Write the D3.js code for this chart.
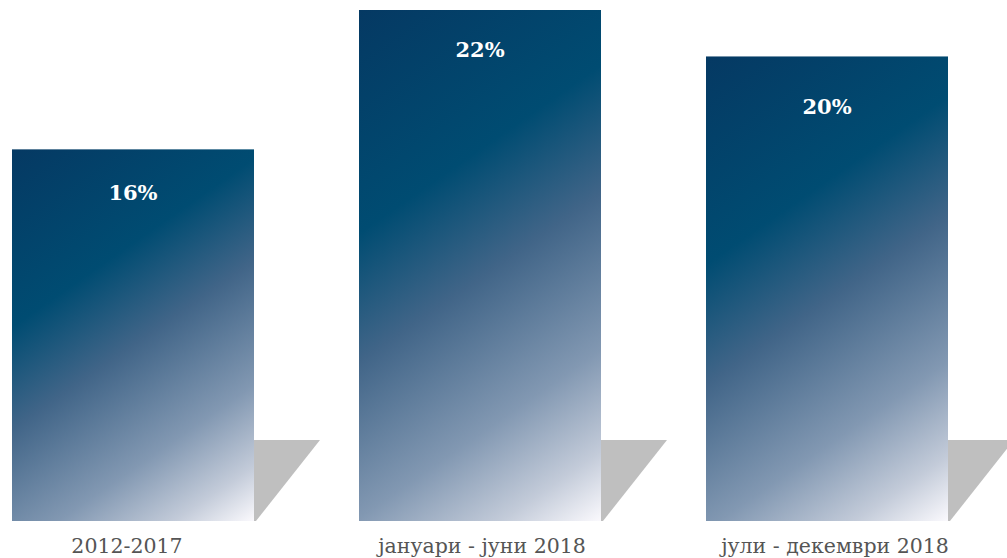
<!DOCTYPE html>
<html>
<head>
<meta charset="utf-8">
<script src="https://cdn.jsdelivr.net/npm/d3@7"></script>
<style>
  html, body { margin: 0; padding: 0; background: #fff; }
  svg { display: block; }
</style>
</head>
<body>
<svg></svg>
<script>
const SVG_WIDTH = 1007, SVG_HEIGHT = 558;

// data
const categories = ["2012-2017", "јануари - јуни 2018", "јули - декември 2018"];
const values = [16, 22, 20];
const valueLabels = ["16%", "22%", "20%"];

// layout
const BASE_Y = 521, TOP_Y = 10;
const LABEL_DY = [51, 47, 58];   // value label baseline below bar top
const TICK_DX = [-6, 2, 8];      // category labels are not quite centred
const SHADOW_H = 81, SHADOW_W = 66;
const GRAD_DIR = [0.57, 0.82];   // gradient direction (unit vector)

var svg = d3.select("svg")
    .attr("width", SVG_WIDTH)
    .attr("height", SVG_HEIGHT);

var x = d3.scaleBand()
    .domain(categories)
    .range([12, 948])
    .paddingInner(0.3026)
    .paddingOuter(0);

var y = d3.scaleLinear()
    .domain([0, d3.max(values)])
    .range([BASE_Y, TOP_Y]);

var data = categories.map(function(c, i) { return { cat: c, value: values[i], label: valueLabels[i], i: i }; });

// one gradient per bar, in user space so the angle stays the same
var defs = svg.append("defs");
data.forEach(function(d) {
    var x0 = x(d.cat), y0 = y(d.value), w = x.bandwidth(), h = BASE_Y - y0;
    var len = w * GRAD_DIR[0] + h * GRAD_DIR[1];
    var g = defs.append("linearGradient")
        .attr("id", "grad" + d.i)
        .attr("gradientUnits", "userSpaceOnUse")
        .attr("x1", x0).attr("y1", y0)
        .attr("x2", x0 + len * GRAD_DIR[0]).attr("y2", y0 + len * GRAD_DIR[1]);
    [["0", "#053963"], ["0.33", "#004c72"], ["0.52", "#416588"], ["0.75", "#8298b2"], ["0.9", "#c3cbd9"], ["1", "#f9f8fc"]]
        .forEach(function(s) { g.append("stop").attr("offset", s[0]).attr("stop-color", s[1]); });
});

// gray shadows behind the bars
svg.selectAll("path.shadow").data(data).enter().append("path")
    .attr("class", "shadow")
    .attr("fill", "#bfbfbf")
    .attr("d", function(d) {
        var r = x(d.cat) + x.bandwidth();
        return "M" + (r - 1) + "," + (BASE_Y - SHADOW_H) +
               "L" + (r + SHADOW_W) + "," + (BASE_Y - SHADOW_H) +
               "L" + (r + 2) + "," + BASE_Y +
               "L" + (r - 1) + "," + BASE_Y + "Z";
    });

svg.selectAll("rect.bar").data(data).enter().append("rect")
    .attr("class", "bar")
    .attr("x", function(d) { return x(d.cat); })
    .attr("y", function(d) { return y(d.value); })
    .attr("width", x.bandwidth())
    .attr("height", function(d) { return BASE_Y - y(d.value); })
    .attr("fill", function(d) { return "url(#grad" + d.i + ")"; });

svg.selectAll("text.val").data(data).enter().append("text")
    .attr("class", "val")
    .attr("x", function(d) { return x(d.cat) + x.bandwidth() / 2; })
    .attr("y", function(d) { return y(d.value) + LABEL_DY[d.i]; })
    .attr("text-anchor", "middle")
    .attr("font-family", "'DejaVu Serif', serif")
    .attr("font-weight", "bold")
    .attr("font-size", "21px")
    .attr("fill", "#ffffff")
    .text(function(d) { return d.label; });

var xAxis = svg.append("g")
    .attr("transform", "translate(0," + BASE_Y + ")")
    .call(d3.axisBottom(x).tickSize(0).tickPadding(0));
xAxis.select(".domain").remove();
xAxis.selectAll("text")
    .attr("x", function(d, i) { return TICK_DX[i]; })
    .attr("y", 32)
    .attr("dy", null)
    .attr("font-family", "'DejaVu Serif', serif")
    .attr("font-size", "20.5px")
    .attr("fill", "#555555");
</script>
</body>
</html>
